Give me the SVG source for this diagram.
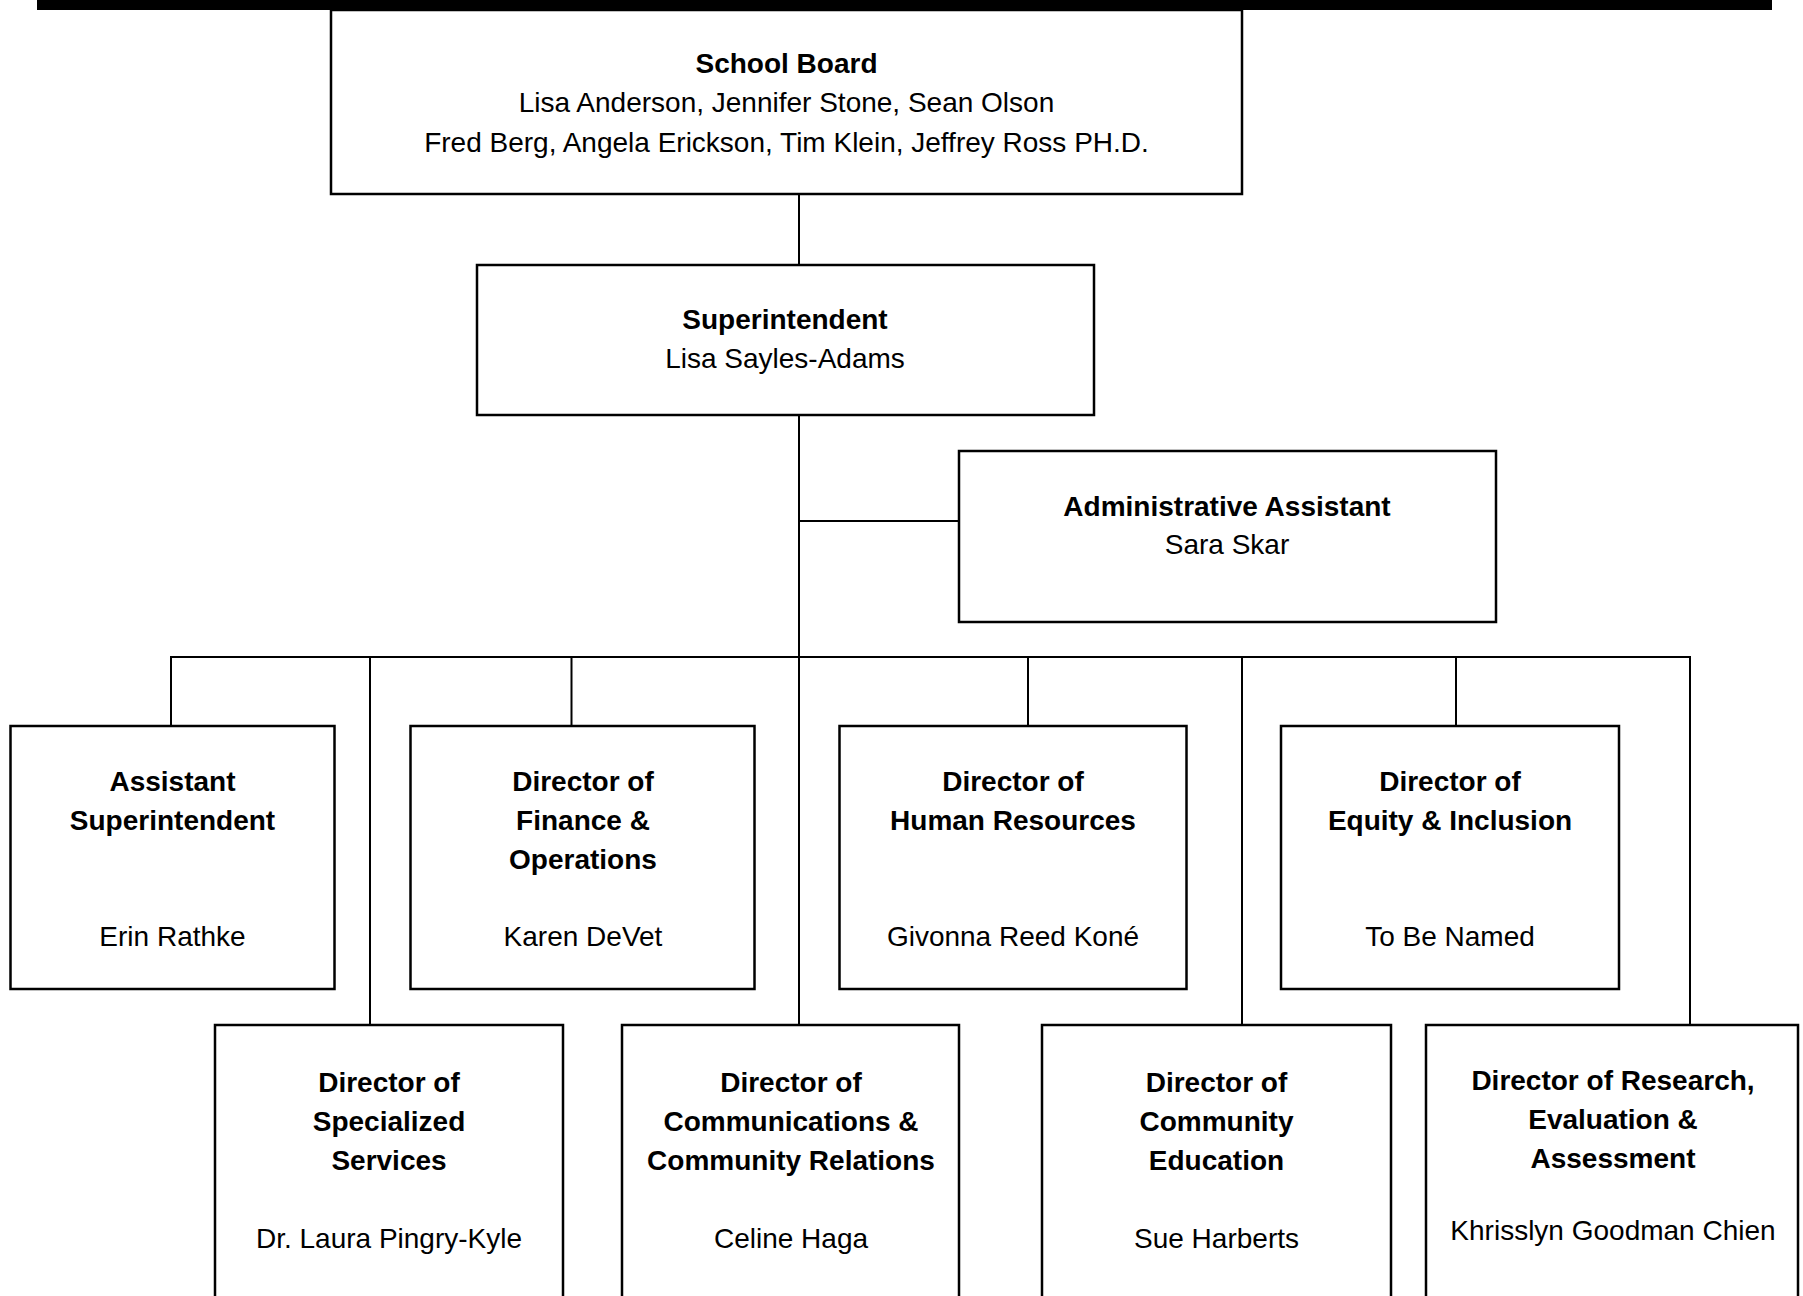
<svg xmlns="http://www.w3.org/2000/svg" width="1803" height="1296" viewBox="0 0 1803 1296">
<style>
.box{fill:#fff;stroke:#000;stroke-width:2.5}
.con{fill:none;stroke:#000;stroke-width:2}
text{font-family:"Liberation Sans",Arial,sans-serif;font-size:28px;fill:#000;text-anchor:middle}
.b{font-weight:bold}
</style>
<rect x="37" y="0" width="1735" height="10" fill="#000"/>
<g id="connectors">
<line class="con" x1="799" y1="194" x2="799" y2="265"/>
<line class="con" x1="799" y1="415" x2="799" y2="1025"/>
<line class="con" x1="799" y1="521" x2="959" y2="521"/>
<polyline class="con" points="171,726 171,657 1690,657 1690,1025"/>
<line class="con" x1="370" y1="657" x2="370" y2="1025"/>
<line class="con" x1="571.5" y1="657" x2="571.5" y2="726"/>
<line class="con" x1="1028" y1="657" x2="1028" y2="726"/>
<line class="con" x1="1242" y1="657" x2="1242" y2="1025"/>
<line class="con" x1="1456" y1="657" x2="1456" y2="726"/>
</g>
<g id="school-board">
<rect class="box" x="331" y="10" width="911" height="184"/>
<text class="b" x="786.5" y="73">School Board</text>
<text x="786.5" y="112">Lisa Anderson, Jennifer Stone, Sean Olson</text>
<text x="786.5" y="152">Fred Berg, Angela Erickson, Tim Klein, Jeffrey Ross PH.D.</text>
</g>
<g id="superintendent">
<rect class="box" x="477" y="265" width="617" height="150"/>
<text class="b" x="785" y="329">Superintendent</text>
<text x="785" y="368">Lisa Sayles-Adams</text>
</g>
<g id="admin-assistant">
<rect class="box" x="959" y="451" width="537" height="171"/>
<text class="b" x="1227" y="516">Administrative Assistant</text>
<text x="1227" y="554">Sara Skar</text>
</g>
<g id="assistant-superintendent">
<rect class="box" x="10.5" y="726" width="324" height="263"/>
<text class="b" x="172.5" y="791">Assistant</text>
<text class="b" x="172.5" y="830">Superintendent</text>
<text x="172.5" y="946">Erin Rathke</text>
</g>
<g id="finance">
<rect class="box" x="410.5" y="726" width="344" height="263"/>
<text class="b" x="583" y="791">Director of</text>
<text class="b" x="583" y="830">Finance &amp;</text>
<text class="b" x="583" y="869">Operations</text>
<text x="583" y="946">Karen DeVet</text>
</g>
<g id="human-resources">
<rect class="box" x="839.5" y="726" width="347" height="263"/>
<text class="b" x="1013" y="791">Director of</text>
<text class="b" x="1013" y="830">Human Resources</text>
<text x="1013" y="946">Givonna Reed Koné</text>
</g>
<g id="equity">
<rect class="box" x="1281" y="726" width="338" height="263"/>
<text class="b" x="1450" y="791">Director of</text>
<text class="b" x="1450" y="830">Equity &amp; Inclusion</text>
<text x="1450" y="946">To Be Named</text>
</g>
<g id="specialized-services">
<rect class="box" x="215" y="1025" width="348" height="300"/>
<text class="b" x="389" y="1092">Director of</text>
<text class="b" x="389" y="1131">Specialized</text>
<text class="b" x="389" y="1170">Services</text>
<text x="389" y="1248">Dr. Laura Pingry-Kyle</text>
</g>
<g id="communications">
<rect class="box" x="622" y="1025" width="337" height="300"/>
<text class="b" x="791" y="1092">Director of</text>
<text class="b" x="791" y="1131">Communications &amp;</text>
<text class="b" x="791" y="1170">Community Relations</text>
<text x="791" y="1248">Celine Haga</text>
</g>
<g id="community-education">
<rect class="box" x="1042" y="1025" width="349" height="300"/>
<text class="b" x="1216.5" y="1092">Director of</text>
<text class="b" x="1216.5" y="1131">Community</text>
<text class="b" x="1216.5" y="1170">Education</text>
<text x="1216.5" y="1248">Sue Harberts</text>
</g>
<g id="research">
<rect class="box" x="1426" y="1025" width="372" height="300"/>
<text class="b" x="1613" y="1090">Director of Research,</text>
<text class="b" x="1613" y="1129">Evaluation &amp;</text>
<text class="b" x="1613" y="1168">Assessment</text>
<text x="1613" y="1240">Khrisslyn Goodman Chien</text>
</g>
</svg>
